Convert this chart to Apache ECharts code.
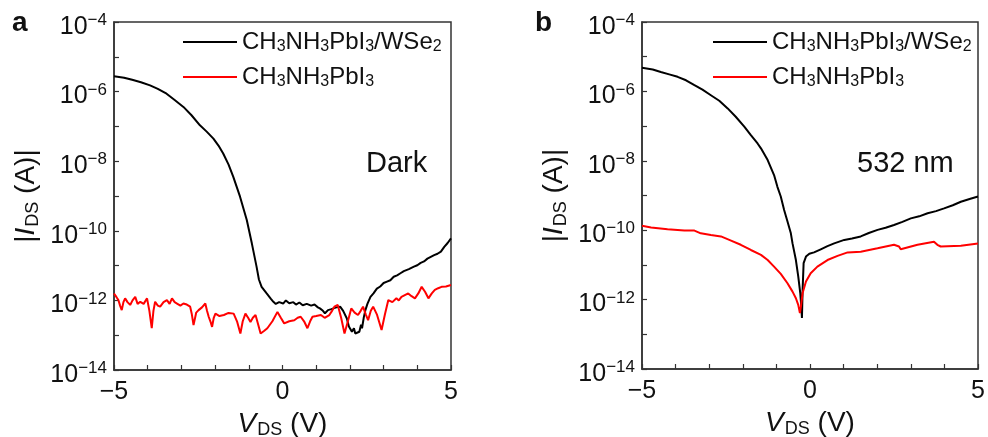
<!DOCTYPE html>
<html>
<head>
<meta charset="utf-8">
<script src="https://cdn.jsdelivr.net/npm/echarts@6/dist/echarts.min.js"></script>
<style>
  html, body { margin: 0; padding: 0; background: #fff; }
  #chart { width: 988px; height: 437px; }
</style>
</head>
<body>
<div id="chart"></div>
<script>
// Drain-source sweeps: V_DS in volts, current as log10(|I_DS| / A)

// (a) in the dark
const darkHeteroV = [-5,-4.7,-4.46,-4.2,-3.93,-3.7,-3.44,-3.2,-2.94,-2.7,-2.45,-2.25,-2.05,-1.9,-1.76,-1.6,-1.46,-1.26,-1.06,-0.91,-0.77,-0.7,-0.62,-0.47,-0.35,-0.27,-0.2,-0.1,0.02,0.1,0.2,0.32,0.4,0.5,0.6,0.72,0.85,0.95,1.05,1.11,1.2,1.26,1.35,1.45,1.51,1.6,1.71,1.8,1.91,1.97,2.06,2.12,2.16,2.21,2.28,2.33,2.36,2.41,2.46,2.52,2.61,2.7,2.8,2.9,3.0,3.1,3.2,3.3,3.4,3.5,3.6,3.75,3.9,4.0,4.1,4.2,4.3,4.4,4.5,4.6,4.7,4.8,4.9,5.0];
const darkHeteroLogI = [-5.56,-5.6,-5.66,-5.73,-5.82,-5.92,-6.06,-6.24,-6.44,-6.68,-6.97,-7.15,-7.35,-7.55,-7.78,-8.1,-8.45,-9.02,-9.69,-10.36,-11.03,-11.4,-11.61,-11.8,-11.95,-12.04,-12.1,-12.05,-12.09,-12.0,-12.08,-12.05,-12.12,-12.06,-12.14,-12.1,-12.15,-12.12,-12.2,-12.23,-12.3,-12.37,-12.28,-12.25,-12.23,-12.2,-12.18,-12.3,-12.52,-12.75,-12.9,-12.8,-12.95,-13.0,-12.9,-12.7,-12.8,-12.5,-12.28,-12.1,-11.9,-11.8,-11.66,-11.6,-11.5,-11.46,-11.42,-11.32,-11.28,-11.22,-11.16,-11.1,-11.03,-10.99,-10.92,-10.88,-10.8,-10.75,-10.7,-10.66,-10.6,-10.46,-10.35,-10.22];

const darkPerovV = [-5,-4.93,-4.87,-4.82,-4.77,-4.72,-4.67,-4.6,-4.52,-4.45,-4.37,-4.3,-4.22,-4.12,-4.02,-3.95,-3.88,-3.83,-3.78,-3.7,-3.63,-3.53,-3.43,-3.35,-3.28,-3.2,-3.13,-3.03,-2.94,-2.84,-2.74,-2.69,-2.64,-2.56,-2.49,-2.39,-2.29,-2.24,-2.19,-2.14,-2.09,-2.04,-1.99,-1.87,-1.74,-1.6,-1.45,-1.35,-1.25,-1.18,-1.1,-1.02,-0.95,-0.88,-0.8,-0.72,-0.65,-0.55,-0.45,-0.3,-0.15,-0.05,0.05,0.2,0.35,0.45,0.54,0.64,0.74,0.82,0.89,1.0,1.14,1.25,1.39,1.47,1.54,1.64,1.74,1.84,1.94,2.04,2.14,2.24,2.32,2.39,2.47,2.54,2.62,2.69,2.8,2.94,3.04,3.14,3.26,3.38,3.45,3.53,3.63,3.73,3.83,3.93,4.03,4.13,4.23,4.33,4.43,4.52,4.62,4.72,4.85,5.0];
const darkPerovLogI = [-11.8,-11.9,-11.99,-12.15,-12.28,-12.05,-11.94,-12.05,-12.13,-12.0,-11.9,-12.1,-12.04,-12.1,-11.94,-12.3,-12.8,-12.3,-12.04,-12.15,-12.18,-12.05,-11.99,-12.1,-11.94,-12.05,-12.09,-12.15,-12.09,-12.12,-12.18,-12.4,-12.71,-12.35,-12.28,-12.2,-12.09,-12.3,-12.47,-12.6,-12.76,-12.5,-12.38,-12.45,-12.42,-12.36,-12.38,-12.6,-12.95,-12.6,-12.38,-12.5,-12.62,-12.5,-12.42,-12.7,-12.95,-12.88,-12.8,-12.6,-12.33,-12.5,-12.66,-12.6,-12.57,-12.5,-12.47,-12.6,-12.8,-12.6,-12.47,-12.45,-12.42,-12.5,-12.42,-12.3,-12.18,-12.13,-12.5,-12.95,-12.6,-12.23,-12.35,-12.42,-12.3,-12.18,-12.4,-12.57,-12.3,-12.18,-12.4,-12.85,-12.4,-11.99,-12.05,-11.94,-12.0,-11.9,-11.85,-11.8,-11.88,-11.94,-11.8,-11.61,-11.75,-11.94,-11.8,-11.7,-11.65,-11.61,-11.6,-11.56];

// (b) under 532 nm illumination
const lightHeteroV = [-5,-4.68,-4.44,-4.19,-3.94,-3.69,-3.44,-3.2,-2.95,-2.7,-2.45,-2.21,-1.95,-1.76,-1.56,-1.46,-1.26,-1.07,-0.97,-0.87,-0.77,-0.67,-0.57,-0.52,-0.42,-0.35,-0.29,-0.26,-0.24,-0.22,-0.19,-0.12,-0.02,0.12,0.32,0.52,0.72,1.02,1.25,1.51,1.75,2.01,2.25,2.5,2.75,3.0,3.25,3.5,3.75,3.99,4.25,4.49,4.75,5.0];
const lightHeteroLogI = [-5.32,-5.37,-5.44,-5.51,-5.58,-5.68,-5.82,-5.95,-6.11,-6.27,-6.49,-6.73,-7.02,-7.26,-7.5,-7.64,-7.98,-8.41,-8.75,-9.03,-9.42,-9.75,-10.09,-10.38,-10.86,-11.33,-11.81,-12.2,-12.53,-11.72,-10.95,-10.76,-10.68,-10.64,-10.55,-10.46,-10.38,-10.28,-10.24,-10.18,-10.08,-9.99,-9.93,-9.85,-9.76,-9.66,-9.6,-9.51,-9.45,-9.37,-9.28,-9.18,-9.1,-9.03];

const lightPerovV = [-5,-4.73,-4.24,-3.74,-3.44,-3.25,-2.95,-2.65,-2.35,-2.06,-1.76,-1.46,-1.26,-1.07,-0.87,-0.67,-0.52,-0.42,-0.35,-0.3,-0.27,-0.22,-0.12,0.02,0.22,0.52,0.82,1.12,1.51,2.01,2.5,2.65,2.7,3.2,3.69,3.79,3.89,4.49,5.0];
const lightPerovLogI = [-9.87,-9.92,-9.97,-10.01,-10.01,-10.09,-10.14,-10.18,-10.3,-10.42,-10.57,-10.71,-10.86,-11.05,-11.26,-11.53,-11.77,-11.96,-12.15,-12.39,-12.2,-11.81,-11.48,-11.24,-11.05,-10.86,-10.74,-10.64,-10.62,-10.52,-10.42,-10.47,-10.55,-10.42,-10.33,-10.42,-10.47,-10.45,-10.38];

const seriesNames = ['CH3NH3PbI3/WSe2', 'CH3NH3PbI3'];
const panelLetters = ['a', 'b'];
const panelNotes = ['Dark', '532 nm'];
const yTickExps = [-14, -12, -10, -8, -6, -4];
const xTickLabels = [-5, 0, 5];

const FONT = '"Liberation Sans", Arial, Helvetica, sans-serif';
const AXIS_COLOR = '#333';
const INK = '#111';

function pairs(xs, ys) { return xs.map((x, i) => [x, ys[i]]); }
const minus = s => String(s).replace('-', '\u2212');

const grids = [
  { left: 114, top: 22, width: 337, height: 348 },
  { left: 642, top: 22, width: 336, height: 347 }
];

const titleRich = {
  i: { fontSize: 28, fontStyle: 'italic', fontFamily: FONT, color: INK },
  s: { fontSize: 18, fontFamily: FONT, color: INK, padding: [13, 0, 0, 1] },
  n: { fontSize: 28, fontFamily: FONT, color: INK }
};

function makeX(gridIndex) {
  return {
    type: 'value', gridIndex, min: -5, max: 5, interval: 1,
    axisLine: { onZero: false, lineStyle: { color: AXIS_COLOR, width: 1.5 } },
    axisTick: { inside: true, length: 5, lineStyle: { color: AXIS_COLOR, width: 1.2 } },
    splitLine: { show: false },
    axisLabel: {
      margin: 10, color: INK, fontSize: 25, fontFamily: FONT,
      formatter: v => xTickLabels.includes(v) ? minus(v) : ''
    },
    name: '{i|V}{s|DS}{n| (V)}',
    nameLocation: 'middle', nameGap: 33,
    nameTextStyle: { rich: titleRich }
  };
}

function makeY(gridIndex) {
  return {
    type: 'value', gridIndex, min: -14, max: -4, interval: 1,
    axisLine: { onZero: false, lineStyle: { color: AXIS_COLOR, width: 1.5 } },
    axisTick: { inside: true, length: 5, lineStyle: { color: AXIS_COLOR, width: 1.2 } },
    splitLine: { show: false },
    axisLabel: {
      margin: 7, padding: [10, 0, 0, 0],
      formatter: v => yTickExps.includes(v) ? '{b|10}{e|' + minus(v) + '}' : '',
      rich: {
        b: { fontSize: 25, fontFamily: FONT, color: INK },
        e: { fontSize: 17, fontFamily: FONT, color: INK, padding: [0, 0, 13, 0] }
      }
    },
    name: '{n||}{i|I}{s|DS}{n| (A)|}',
    nameLocation: 'middle', nameGap: 72,
    nameTextStyle: { rich: titleRich }
  };
}

function line(name, data, color, idx) {
  return {
    type: 'line', name, data, xAxisIndex: idx, yAxisIndex: idx,
    showSymbol: false, symbol: 'none',
    lineStyle: { color, width: 2 }, itemStyle: { color },
    animation: false
  };
}

const legendRich = {
  n: { fontSize: 24, fontFamily: FONT, color: INK, lineHeight: 24 },
  s: { fontSize: 16, fontFamily: FONT, color: INK, padding: [10, 0, 0, 0] }
};
function legendFormatter(name) {
  return name.replace(/(\d)/g, '}{s|$1}{n|').replace(/^/, '{n|') + '}';
}
function makeLegend(left) {
  return {
    data: seriesNames, orient: 'vertical', left, top: 30, padding: 0,
    icon: 'rect', itemWidth: 54, itemHeight: 2, itemGap: 10,
    selectedMode: false,
    formatter: legendFormatter,
    textStyle: { rich: legendRich }
  };
}

function note(text, x, y, size, weight) {
  return {
    type: 'text', left: x, top: y,
    style: { text, fontSize: size, fontWeight: weight || 'normal', fontFamily: FONT, fill: INK }
  };
}

const chart = echarts.init(document.getElementById('chart'), null, { renderer: 'canvas' });
chart.setOption({
  backgroundColor: '#fff',
  animation: false,
  grid: grids.map(g => Object.assign({
    show: true, borderColor: AXIS_COLOR, borderWidth: 1.5, backgroundColor: 'transparent',
    containLabel: false, outerBoundsMode: 'none'
  }, g)),
  xAxis: [makeX(0), makeX(1)],
  yAxis: [makeY(0), makeY(1)],
  legend: [makeLegend(183), makeLegend(713)],
  series: [
    line(seriesNames[0], pairs(darkHeteroV, darkHeteroLogI), '#000', 0),
    line(seriesNames[1], pairs(darkPerovV, darkPerovLogI), '#ff0000', 0),
    line(seriesNames[0], pairs(lightHeteroV, lightHeteroLogI), '#000', 1),
    line(seriesNames[1], pairs(lightPerovV, lightPerovLogI), '#ff0000', 1)
  ],
  graphic: [
    note(panelLetters[0], 12, 9, 28, 'bold'),
    note(panelLetters[1], 535, 9, 28, 'bold'),
    note(panelNotes[0], 366, 149, 29),
    note(panelNotes[1], 857, 149, 29)
  ]
});
</script>
</body>
</html>
